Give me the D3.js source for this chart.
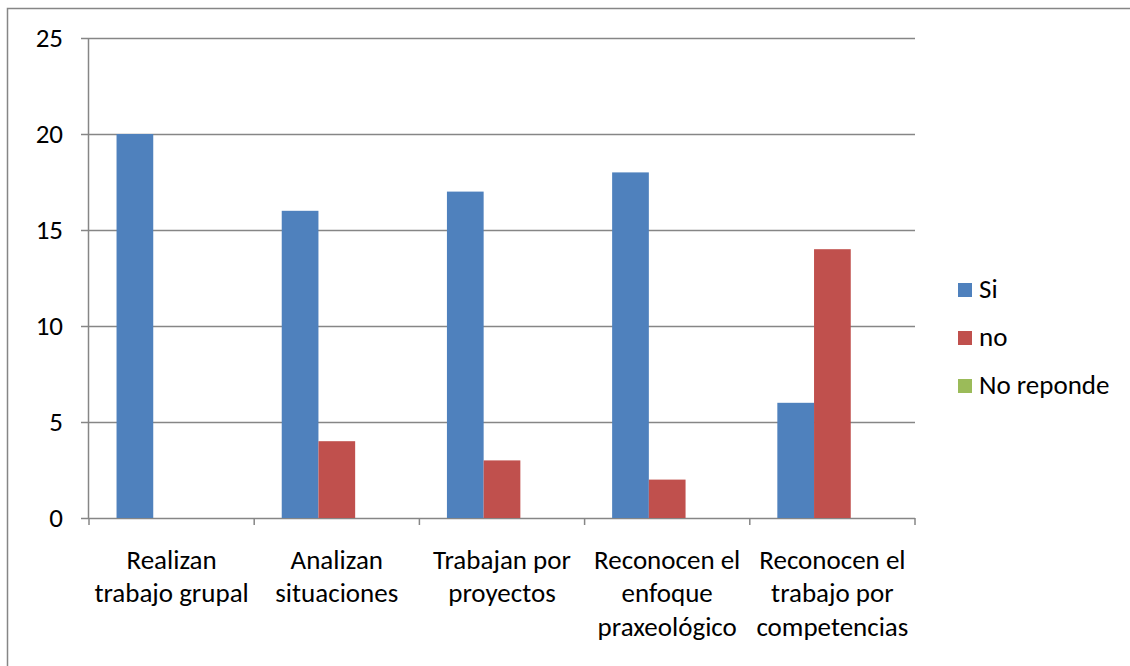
<!DOCTYPE html>
<html>
<head>
<meta charset="utf-8">
<script src="https://cdn.jsdelivr.net/npm/d3@7"></script>
<style>
  body { margin: 0; background: #fff; }
  text { font-family: "Carlito", "Liberation Sans Narrow", "Liberation Sans", sans-serif; }
</style>
</head>
<body>
<div id="chart"></div>
<script>
const width = 1130, height = 666;

// data
const categories = [
  ["Realizan", "trabajo grupal"],
  ["Analizan", "situaciones"],
  ["Trabajan por", "proyectos"],
  ["Reconocen el", "enfoque", "praxeológico"],
  ["Reconocen el", "trabajo por", "competencias"]
];
const seriesNames = ["Si", "no", "No reponde"];
const siValues = [20, 16, 17, 18, 6];
const noValues = [0, 4, 3, 2, 14];
const noRespondeValues = [0, 0, 0, 0, 0];
const yTicks = [0, 5, 10, 15, 20, 25];
const colors = ["#4f81bd", "#c0504d", "#9bbb59"];

const series = [siValues, noValues, noRespondeValues];

const svg = d3.select("#chart")
  .append("svg")
  .attr("width", width)
  .attr("height", height);

// outer frame
svg.append("rect")
  .attr("x", 7.5).attr("y", 8.5)
  .attr("width", 1140).attr("height", 680)
  .attr("fill", "none")
  .attr("stroke", "#868686")
  .attr("stroke-width", 1.5);

const plot = { left: 89, right: 915, top: 38, bottom: 518 };

const x0 = d3.scaleBand()
  .domain(d3.range(categories.length))
  .range([plot.left, plot.right])
  .paddingInner(0)
  .paddingOuter(0);

const x1 = d3.scaleBand()
  .domain(d3.range(series.length))
  .range([0, x0.bandwidth()])
  .paddingInner(0)
  .paddingOuter(0.75);

const y = d3.scaleLinear()
  .domain([0, 25])
  .range([plot.bottom, plot.top]);

// gridlines
svg.append("g")
  .selectAll("line")
  .data(yTicks)
  .enter()
  .append("line")
  .attr("x1", plot.left - 8)
  .attr("x2", plot.right)
  .attr("y1", d => Math.round(y(d)) + 0.5)
  .attr("y2", d => Math.round(y(d)) + 0.5)
  .attr("stroke", "#868686")
  .attr("stroke-width", 1.5);

// y labels
svg.append("g")
  .selectAll("text")
  .data(yTicks)
  .enter()
  .append("text")
  .attr("x", 63)
  .attr("y", d => y(d) + 9)
  .attr("text-anchor", "end")
  .attr("font-size", 27)
  .attr("fill", "#000")
  .text(d => d);

// bars
const groups = svg.append("g")
  .selectAll("g")
  .data(categories.map((c, i) => i))
  .enter()
  .append("g")
  .attr("transform", i => `translate(${x0(i)},0)`);

groups.selectAll("rect")
  .data(i => series.map((s, k) => ({ k, v: s[i] })))
  .enter()
  .append("rect")
  .attr("x", d => x1(d.k))
  .attr("y", d => y(d.v))
  .attr("width", x1.bandwidth())
  .attr("height", d => y(0) - y(d.v))
  .attr("fill", d => colors[d.k]);

// y axis line
svg.append("line")
  .attr("x1", plot.left - 0.5).attr("x2", plot.left - 0.5)
  .attr("y1", plot.top).attr("y2", plot.bottom)
  .attr("stroke", "#868686")
  .attr("stroke-width", 1.5);

// x axis ticks
svg.append("g")
  .selectAll("line")
  .data(d3.range(categories.length + 1))
  .enter()
  .append("line")
  .attr("x1", i => plot.left + i * x0.bandwidth())
  .attr("x2", i => plot.left + i * x0.bandwidth())
  .attr("y1", plot.bottom)
  .attr("y2", plot.bottom + 7)
  .attr("stroke", "#868686")
  .attr("stroke-width", 1.5);

// x labels
svg.append("g")
  .selectAll("text")
  .data(categories.map((c, i) => ({ c, i })))
  .enter()
  .append("text")
  .attr("text-anchor", "middle")
  .attr("font-size", 27)
  .attr("fill", "#000")
  .each(function(d) {
    const t = d3.select(this);
    d.c.forEach((line, j) => {
      t.append("tspan")
        .attr("x", x0(d.i) + x0.bandwidth() / 2)
        .attr("y", 569 + j * 33.3)
        .text(line);
    });
  });

// legend
const legend = svg.append("g")
  .selectAll("g")
  .data(seriesNames.map((n, k) => ({ n, k })))
  .enter()
  .append("g")
  .attr("transform", d => `translate(958,${290 + d.k * 48})`);

legend.append("rect")
  .attr("x", 0).attr("y", -7)
  .attr("width", 14).attr("height", 14)
  .attr("fill", d => colors[d.k]);

legend.append("text")
  .attr("x", 21)
  .attr("y", 8)
  .attr("font-size", 27)
  .attr("fill", "#000")
  .text(d => d.n);
</script>
</body>
</html>
